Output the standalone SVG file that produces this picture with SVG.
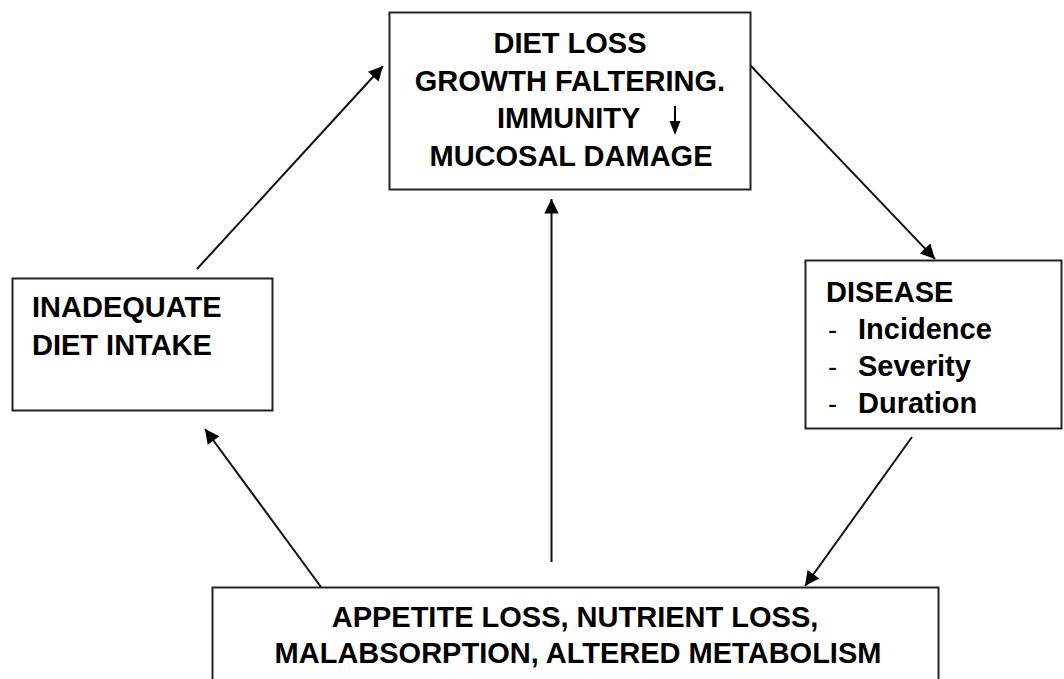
<svg xmlns="http://www.w3.org/2000/svg" width="1064" height="679" viewBox="0 0 1064 679">
<style>
.box{fill:#fff;stroke:#222;stroke-width:2}
.t{font-family:"Liberation Sans",Arial,sans-serif;font-weight:bold;font-size:29px;fill:#000}
.d{font-family:"Liberation Sans",Arial,sans-serif;font-weight:normal;font-size:27px;fill:#000}
.c{stroke:#111;stroke-width:2;fill:none;marker-end:url(#ah)}
</style>
<defs>
<marker id="ah" viewBox="0 0 10 10" refX="10" refY="5" markerWidth="8" markerHeight="8" markerUnits="userSpaceOnUse" orient="auto" style="overflow:visible">
<path d="M0,0 L10,5 L0,10 z" fill="#000" transform="scale(1.8)" transform-origin="10 5"/>
</marker>
</defs>
<rect width="1064" height="679" fill="#fff"/>
<g id="connectors">
<line class="c" x1="197" y1="269" x2="383" y2="66"/>
<line class="c" x1="750" y1="65" x2="935" y2="259"/>
<line class="c" x1="912" y1="437" x2="805" y2="586"/>
<line class="c" x1="321" y1="587" x2="205" y2="429"/>
<line class="c" x1="551.5" y1="562" x2="551.5" y2="199"/>
</g>
<g id="node-top">
<rect class="box" x="389.5" y="12.5" width="361" height="177"/>
<text class="t" x="570" y="53" text-anchor="middle">DIET LOSS</text>
<text class="t" x="570" y="91" text-anchor="middle">GROWTH FALTERING.</text>
<text class="t" x="497" y="128">IMMUNITY</text>
<line x1="675" y1="106" x2="675" y2="126" stroke="#000" stroke-width="2"/>
<path d="M669.5,121 L680.5,121 L675,135 z" fill="#000"/>
<text class="t" x="571" y="166" text-anchor="middle">MUCOSAL DAMAGE</text>
</g>
<g id="node-disease">
<rect class="box" x="805.5" y="260.5" width="256" height="168"/>
<text class="t" x="826" y="302">DISEASE</text>
<text class="d" x="828" y="339">-</text>
<text class="t" x="858" y="339">Incidence</text>
<text class="d" x="828" y="376">-</text>
<text class="t" x="858" y="376">Severity</text>
<text class="d" x="828" y="413">-</text>
<text class="t" x="858" y="413">Duration</text>
</g>
<g id="node-intake">
<rect class="box" x="12.5" y="278.5" width="260" height="132"/>
<text class="t" x="32" y="317">INADEQUATE</text>
<text class="t" x="32" y="355">DIET INTAKE</text>
</g>
<g id="node-bottom">
<rect class="box" x="212.5" y="587.5" width="726" height="100"/>
<text class="t" x="575" y="627" text-anchor="middle">APPETITE LOSS, NUTRIENT LOSS,</text>
<text class="t" x="578" y="663" text-anchor="middle">MALABSORPTION, ALTERED METABOLISM</text>
</g>
</svg>
